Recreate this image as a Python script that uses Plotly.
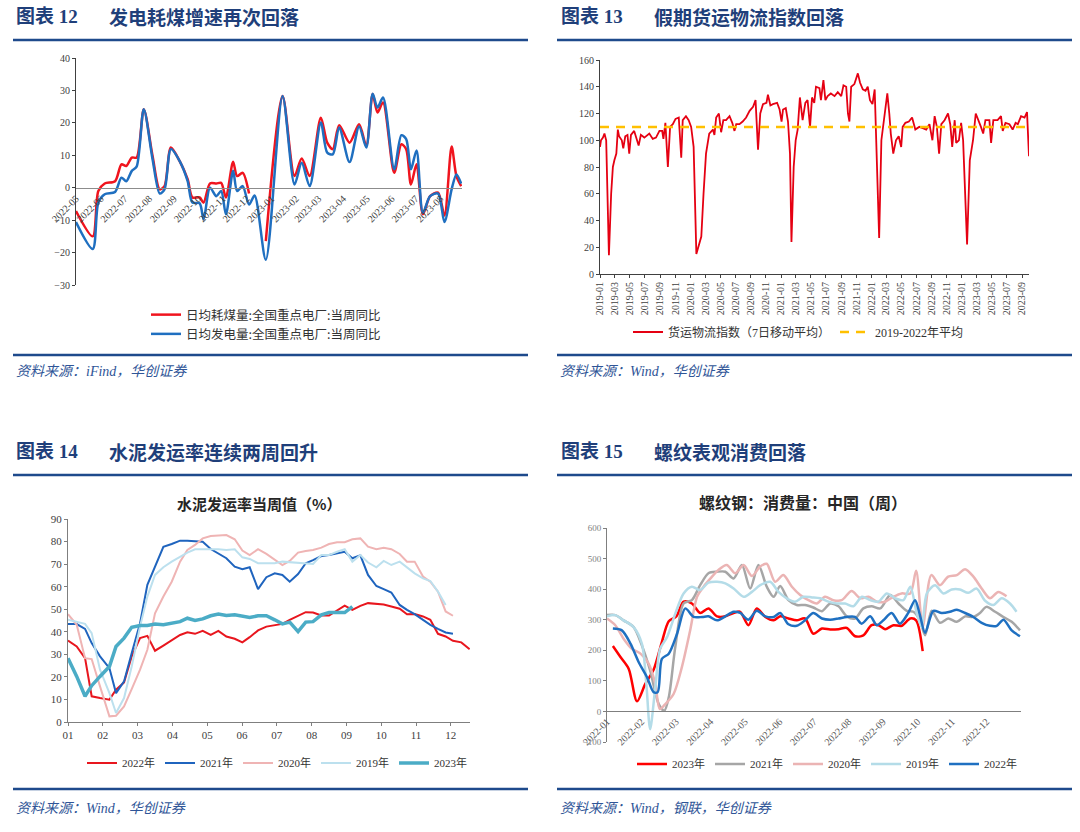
import plotly.graph_objects as go

W, H = 1080, 832

# ---------------- 图表12 数据 ----------------
p1_dates = ['2022-05-01', '2022-05-22', '2022-05-29', '2022-06-06', '2022-06-19', '2022-06-27',
            '2022-07-03', '2022-07-10', '2022-07-16', '2022-07-25', '2022-08-05', '2022-08-14',
            '2022-08-20', '2022-08-28', '2022-09-08', '2022-09-18', '2022-09-24', '2022-10-03',
            '2022-10-08', '2022-10-16', '2022-10-24', '2022-10-30', '2022-11-05', '2022-11-14',
            '2022-11-19', '2022-11-26', '2022-12-04', '2022-12-11', '2022-12-25', '2023-01-15',
            '2023-01-30', '2023-02-08', '2023-02-18', '2023-03-04', '2023-03-12', '2023-03-19',
            '2023-03-27', '2023-04-09', '2023-04-21', '2023-04-30', '2023-05-08', '2023-05-14',
            '2023-05-21', '2023-06-04', '2023-06-13', '2023-06-19', '2023-06-25', '2023-07-02',
            '2023-07-10', '2023-07-19', '2023-07-29', '2023-08-06', '2023-08-15', '2023-08-21',
            '2023-08-27']
coal_yoy = [-7.2, -15, -1, 1.3, 2, 7.2, 6.7, 9.3, 9.3, 24.2, 9.8, -0.5, 0.5, 12.4, 8.2, 2.6, -3, -3,
            -4.6, 1.3, 1.3, 1.5, -3, 8, 3.6, 4.6, -1.8, None, -16.5, 28.3, 3.6, 9, 3.6, 21.6, 13.9,
            11.9, 19.3, 13.9, 19.6, 12.9, 28.9, 23.2, 26.3, 4.6, 13.4, 11.9, 1, 7.2, -8.2, -2.6, -1.5,
            -8.6, 12.7, 3.6, 0.5]
power_yoy = [-10.6, -18.9, -4.6, -2, -1.3, 3.1, 2, 5.2, 6.5, 24.2, 8.8, -1.8, -0.5, 11.9, 8.2, 2,
             -4.6, -4.8, -9.8, 0, -2.6, -1, -8.2, 5.2, -1, 0.5, -5.2, -2.4, -22.2, 28.3, 1, 7.7, 0.5,
             20.1, 10.8, 10.3, 18.6, 7.9, 18.9, 12.4, 29, 24.7, 27.8, 5.7, 16.2, 15, 5.7, 11.5, -7.7,
             -2.6, -1.8, -10.6, -0.5, 4.1, 1.3]

# ---------------- 图表13 数据 ----------------
freight_dates = ['2019-01-01', '2019-01-05', '2019-01-13', '2019-01-19', '2019-01-26', '2019-02-06',
                 '2019-02-15', '2019-02-22', '2019-02-28', '2019-03-08', '2019-03-14', '2019-03-19',
                 '2019-03-30', '2019-04-05', '2019-04-13', '2019-04-22', '2019-04-29', '2019-05-06',
                 '2019-05-19', '2019-06-06', '2019-06-15', '2019-06-29', '2019-07-19', '2019-08-02',
                 '2019-08-15', '2019-08-29', '2019-09-09', '2019-09-14', '2019-09-22', '2019-10-02',
                 '2019-10-11', '2019-10-22', '2019-11-02', '2019-11-15', '2019-11-25', '2019-12-01',
                 '2019-12-14', '2019-12-25', '2020-01-04', '2020-01-14', '2020-01-25', '2020-02-05',
                 '2020-02-14', '2020-02-23', '2020-03-04', '2020-03-17', '2020-04-01', '2020-04-07',
                 '2020-04-14', '2020-04-25', '2020-05-04', '2020-05-13', '2020-05-24', '2020-06-07',
                 '2020-06-18', '2020-06-27', '2020-07-04', '2020-07-17', '2020-07-30', '2020-08-13',
                 '2020-08-27', '2020-09-10', '2020-09-20', '2020-09-30', '2020-10-09', '2020-10-20',
                 '2020-11-03', '2020-11-09', '2020-11-19', '2020-11-29', '2020-12-16', '2020-12-26',
                 '2021-01-03', '2021-01-09', '2021-01-20', '2021-01-29', '2021-02-06', '2021-02-12',
                 '2021-02-21', '2021-03-01', '2021-03-09', '2021-03-18', '2021-03-29', '2021-04-09',
                 '2021-04-18', '2021-04-28', '2021-05-06', '2021-05-15', '2021-05-22', '2021-06-05',
                 '2021-06-11', '2021-06-21', '2021-06-29', '2021-07-08', '2021-07-21', '2021-08-05',
                 '2021-08-18', '2021-09-01', '2021-09-10', '2021-09-21', '2021-09-28', '2021-10-04',
                 '2021-10-11', '2021-10-24', '2021-11-07', '2021-11-16', '2021-11-27', '2021-12-08',
                 '2021-12-17', '2021-12-26', '2022-01-05', '2022-01-14', '2022-01-21', '2022-02-01',
                 '2022-02-10', '2022-02-23', '2022-03-06', '2022-03-14', '2022-03-20', '2022-03-30',
                 '2022-04-10', '2022-04-21', '2022-05-01', '2022-05-07', '2022-05-18', '2022-06-01',
                 '2022-06-14', '2022-06-27', '2022-07-13', '2022-07-27', '2022-08-10', '2022-08-23',
                 '2022-09-04', '2022-09-13', '2022-09-22', '2022-10-01', '2022-10-10', '2022-10-23',
                 '2022-11-06', '2022-11-15', '2022-11-23', '2022-12-03', '2022-12-09', '2022-12-20',
                 '2022-12-29', '2023-01-06', '2023-01-22', '2023-02-02', '2023-02-15', '2023-02-26',
                 '2023-03-10', '2023-03-19', '2023-03-28', '2023-04-06', '2023-04-22', '2023-04-29',
                 '2023-05-08', '2023-05-25', '2023-06-08', '2023-06-15', '2023-06-26', '2023-07-12',
                 '2023-07-25', '2023-08-06', '2023-08-15', '2023-08-28', '2023-09-11', '2023-09-21',
                 '2023-09-29']
freight_index = [95, 100, 102, 105, 100, 14, 60, 80, 85, 90, 108, 103,
                 100, 94, 103, 104, 90, 104, 107, 96, 104, 102, 105, 101,
                 102, 107, 107, 101, 113, 80, 110, 112, 116, 117, 87, 115,
                 118, 115, 110, 95, 15, 22, 28, 60, 90, 105, 108, 104,
                 117, 120, 106, 115, 115, 118, 113, 107, 112, 112, 114, 117,
                 122, 125, 130, 93, 120, 127, 128, 134, 126, 127, 128, 123,
                 114, 123, 124, 114, 90, 24, 80, 100, 108, 132, 115, 128,
                 130, 110, 132, 128, 140, 139, 130, 145, 130, 133, 135, 133,
                 136, 133, 141, 140, 120, 114, 140, 142, 150, 143, 138, 137,
                 140, 130, 127, 138, 100, 27, 100, 120, 135, 120, 105, 90,
                 100, 103, 95, 110, 113, 114, 117, 108, 110, 109, 108, 112,
                 100, 118, 110, 90, 112, 115, 120, 112, 95, 115, 98, 100,
                 113, 100, 22, 85, 100, 120, 115, 110, 105, 115, 115, 98,
                 115, 115, 118, 107, 113, 112, 108, 113, 112, 118, 117, 121,
                 88]
avg_dates = ['2019-01-01', '2023-09-29']
avg_2019_2022 = [110, 110]

# ---------------- 图表14 数据 ----------------
month_ticks = [1, 2, 3, 4, 5, 6, 7, 8, 9, 10, 11, 12]
cement_ticktext = ['01', '02', '03', '04', '05', '06', '07', '08', '09', '10', '11', '12']
cement_weeks = [1.0, 1.25, 1.49, 1.68, 1.92, 2.19, 2.38, 2.61, 2.83, 3.07, 3.28, 3.5, 3.74, 3.98,
                4.22, 4.43, 4.65, 4.87, 5.1, 5.32, 5.55, 5.79, 6.01, 6.22, 6.46, 6.7, 6.94, 7.16,
                7.37, 7.61, 7.83, 8.04, 8.28, 8.5, 8.73, 8.95, 9.17, 9.4, 9.62, 9.86, 10.07, 10.29,
                10.53, 10.74, 10.96, 11.2, 11.41, 11.63, 11.85, 12.06, 12.3, 12.54]
cement_2022 = [36.1, 33.5, 28.3, 11.4, 10.6, 9.9, 14.3, 17.5, 29, 37.2, 38.2, 31.6, 33.9, 36.4, 38.6,
               39.8, 39.1, 40.4, 38.6, 40.4, 37.9, 36.9, 35.3, 37.6, 40.6, 42.3, 43.1, 43.5, 45.3,
               47.1, 48.7, 48.5, 47.2, 47.2, 49.3, 51.6, 49.7, 51.5, 52.7, 52.4, 52.1, 51.2, 50.2,
               47.8, 47.9, 46.8, 45.3, 39.1, 37.9, 36, 35.3, 32.3]
cement_2021 = [43.4, 43.4, 41.3, 35, 29.1, 23.9, 12.8, 18, 30.5, 43.8, 60.8, 68.6, 77.7, 78.9, 80.4,
               80.4, 80.2, 79.9, 76.7, 74.5, 72.6, 68.9, 67.7, 68.6, 58.9, 64.2, 65.9, 65.2, 62.2,
               65.6, 70.4, 71.8, 73.6, 74, 74.8, 75.5, 72.6, 73.9, 65.2, 60.3, 58.9, 57.4, 51.9,
               49.7, 47.8, 45.3, 43.1, 41.3, 39.7, 39.1, None, None]
cement_2020 = [47.8, 43.1, 28.3, 27.9, 15.8, 2.5, 2.8, 6.9, 14.6, 23.2, 32, 48.2, 55.6, 62.2, 71.1,
               76.3, 78.5, 81.4, 82.5, 82.6, 82.9, 81, 76, 74, 76.6, 74.5, 71.8, 69.6, 71.4, 75.1,
               75.8, 76.3, 77.3, 78.9, 79.7, 79.7, 81, 81.4, 77.7, 76.6, 77.3, 76.6, 74.5, 71.1,
               71.1, 64.5, 62.2, 57.8, 49, 47.1, None, None]
cement_2019 = [45.3, 44.3, 43.5, 39.4, 23.2, 12.8, 4, 10.6, 24.6, 42.3, 55.6, 65.2, 68.6, 71.1, 73.3,
               75.1, 76.6, 76.6, 76.7, 76.6, 76.3, 76.6, 73, 72.3, 70.4, 70.4, 70.4, 71.1, 70.8,
               70.4, 70.1, 70.1, 74, 74, 75.5, 76.6, 71.1, 74, 70.7, 68.6, 71.4, 69.6, 71.1, 68.6,
               65.9, 63.7, 62.5, 57.8, 51.9, None, None, None]
cement_2023 = [28.3, 20.2, 11.4, 16.1, 20.2, 24.6, 33.5, 37.2, 42, 42.8, 42.8, 43.4, 43.1, 43.8,
               44.5, 46, 45, 45.7, 47.1, 47.9, 47.2, 47.5, 46.8, 46.3, 47.1, 47.1, 45.3, 43.5,
               44.3, 40.1, 44.3, 44.5, 47.5, 48.5, 48.5, 48.5, 51.2] + [None] * 15

# ---------------- 图表15 数据 ----------------
rebar_ticktext = ['2022-01', '2022-02', '2022-03', '2022-04', '2022-05', '2022-06',
                  '2022-07', '2022-08', '2022-09', '2022-10', '2022-11', '2022-12']
rebar_x_2023 = [1.17, 1.39, 1.63, 1.87, 2.11, 2.35, 2.59, 2.79, 3.01, 3.22, 3.46, 3.7, 3.94, 4.19,
                4.43, 4.67, 4.86, 5.1, 5.34, 5.59, 5.83, 6.02, 6.26, 6.5, 6.74, 6.98, 7.23, 7.47,
                7.71, 7.95, 8.19, 8.43, 8.67, 8.87, 9.06, 9.3, 9.54, 9.79, 9.96, 10.15]
rebar_2023 = [214, 178, 139, 33, 90, 136, 227, 295, 311, 359, 353, 322, 337, 311, 311, 322, 326, 282,
              337, 309, 298, 311, 304, 298, 304, 254, 271, 268, 269, 273, 246, 249, 282, 282, 269,
              282, 280, 304, 298, 197]
rebar_x_2021 = [1.0, 1.24, 1.48, 1.77, 2.01, 2.25, 2.5, 2.66, 2.79, 2.98, 3.22, 3.46, 3.7, 3.94,
                4.19, 4.43, 4.67, 4.91, 5.15, 5.39, 5.63, 5.83, 6.02, 6.26, 6.5, 6.74, 6.98, 7.23,
                7.47, 7.71, 7.95, 8.19, 8.43, 8.67, 8.92, 9.21, 9.45, 9.69, 9.88, 10.07, 10.22,
                10.41, 10.65, 10.89, 11.14, 11.38, 11.62, 11.81, 12.0, 12.25, 12.49, 12.73, 12.97]
rebar_2021 = [315, 315, 298, 276, 216, 134, 24, 2, 46, 211, 353, 364, 413, 452, 457, 457, 435, 479,
              402, 479, 408, 375, 410, 364, 348, 348, 340, 328, 353, 344, 311, 304, 337, 344, 337,
              381, 353, 329, 326, 298, 249, 329, 290, 304, 293, 311, 309, 322, 342, 326, 309, 293,
              265]
rebar_x_2020 = [1.0, 1.24, 1.48, 1.72, 1.97, 2.21, 2.4, 2.53, 2.69, 2.93, 3.17, 3.41, 3.61, 3.8,
                4.0, 4.23, 4.47, 4.72, 4.96, 5.2, 5.44, 5.63, 5.87, 6.11, 6.36, 6.6, 6.84, 7.08,
                7.32, 7.56, 7.8, 8.09, 8.34, 8.58, 8.82, 9.06, 9.3, 9.54, 9.79, 9.96, 10.15, 10.4,
                10.65, 10.89, 11.14, 11.38, 11.62, 11.86, 12.1, 12.34, 12.58]
rebar_2020 = [304, 282, 238, 205, 189, 156, 90, 8, 24, 57, 145, 265, 375, 408, 435, 463, 479, 452,
              479, 443, 474, 483, 424, 446, 408, 381, 364, 353, 375, 364, 364, 394, 370, 375, 359,
              359, 375, 386, 386, 460, 276, 446, 413, 441, 446, 465, 441, 402, 370, 391, 377]
rebar_x_2019 = [1.0, 1.24, 1.48, 1.77, 2.01, 2.14, 2.25, 2.4, 2.54, 2.74, 2.98, 3.22, 3.46, 3.7,
                3.94, 4.19, 4.43, 4.67, 4.96, 5.2, 5.44, 5.73, 5.97, 6.21, 6.45, 6.69, 6.94, 7.18,
                7.42, 7.66, 7.9, 8.14, 8.39, 8.63, 8.87, 9.11, 9.35, 9.59, 9.79, 9.98, 10.12,
                10.27, 10.51, 10.75, 10.99, 11.23, 11.47, 11.71, 11.96, 12.2, 12.44, 12.68, 12.87]
rebar_2019 = [311, 315, 298, 276, 222, 90, -58, 79, 205, 243, 320, 386, 408, 397, 421, 424, 419, 402,
              375, 391, 413, 424, 391, 370, 359, 375, 373, 370, 359, 353, 353, 344, 375, 364, 359,
              386, 370, 364, 408, 320, 276, 386, 413, 386, 399, 399, 388, 402, 362, 348, 370, 353,
              326]
rebar_x_2022 = [1.17, 1.43, 1.68, 1.92, 2.16, 2.35, 2.47, 2.59, 2.79, 3.03, 3.27, 3.51, 3.76, 3.94,
                4.19, 4.43, 4.67, 4.86, 5.1, 5.34, 5.59, 5.83, 6.02, 6.26, 6.5, 6.74, 6.98, 7.23,
                7.47, 7.71, 7.95, 8.19, 8.38, 8.63, 8.82, 9.01, 9.25, 9.49, 9.73, 9.93, 10.07,
                10.22, 10.46, 10.7, 10.94, 11.14, 11.38, 11.62, 11.86, 12.1, 12.3, 12.49, 12.73,
                12.97]
rebar_2022 = [271, 265, 222, 161, 112, 63, 63, 172, 189, 254, 337, 309, 309, 311, 298, 311, 326, 322,
              300, 329, 311, 309, 322, 285, 280, 298, 322, 304, 300, 304, 309, 309, 287, 311, 282,
              298, 322, 287, 322, 364, 315, 257, 329, 322, 326, 333, 322, 309, 290, 280, 280, 300,
              265, 246]


def fx(px):
    return px / W


def fy(py):
    return 1 - py / H


SERIF = 'Liberation Serif, Noto Sans CJK SC'
CJK = 'Noto Sans CJK SC, Liberation Serif'
NAVY = '#1F3F7A'
RULE = '#1E4A8C'
AXIS = '#7F7F7F'

fig = go.Figure()

# 图表12
fig.add_trace(go.Scatter(x=p1_dates, y=coal_yoy, name='日均耗煤量:全国重点电厂:当周同比',
                         mode='lines', line=dict(color='#F0141E', width=2.5, shape='spline', smoothing=0.8),
                         xaxis='x', yaxis='y', legend='legend'))
fig.add_trace(go.Scatter(x=p1_dates, y=power_yoy, name='日均发电量:全国重点电厂:当周同比',
                         mode='lines', line=dict(color='#1F6FC0', width=2.5, shape='spline', smoothing=0.8),
                         xaxis='x', yaxis='y', legend='legend'))

# 图表13
fig.add_trace(go.Scatter(x=freight_dates, y=freight_index, name='货运物流指数（7日移动平均）',
                         mode='lines', line=dict(color='#E50012', width=1.8),
                         xaxis='x2', yaxis='y2', legend='legend2'))
fig.add_trace(go.Scatter(x=avg_dates, y=avg_2019_2022, name='2019-2022年平均',
                         mode='lines', line=dict(color='#FFC000', width=2.5, dash='9px,7px'),
                         xaxis='x2', yaxis='y2', legend='legend2'))

# 图表14
for name, vals, color, width in [('2022年', cement_2022, '#E8161E', 2),
                                 ('2021年', cement_2021, '#1F64BE', 2),
                                 ('2020年', cement_2020, '#EFB4B4', 2),
                                 ('2019年', cement_2019, '#BCE0EE', 2),
                                 ('2023年', cement_2023, '#4BACC6', 3.5)]:
    fig.add_trace(go.Scatter(x=cement_weeks, y=vals, name=name, mode='lines',
                             line=dict(color=color, width=width),
                             xaxis='x3', yaxis='y3', legend='legend3'))

# 图表15
for name, xs, vals, color in [('2023年', rebar_x_2023, rebar_2023, '#FF0000'),
                              ('2021年', rebar_x_2021, rebar_2021, '#A6A6A6'),
                              ('2020年', rebar_x_2020, rebar_2020, '#EBB4B4'),
                              ('2019年', rebar_x_2019, rebar_2019, '#B4DCE8'),
                              ('2022年', rebar_x_2022, rebar_2022, '#1F70C1')]:
    fig.add_trace(go.Scatter(x=xs, y=vals, name=name, mode='lines',
                             line=dict(color=color, width=2.5, shape='spline', smoothing=0.8),
                             xaxis='x4', yaxis='y4', legend='legend4'))

tick_font = dict(family=SERIF, size=10, color='#404040')

fig.update_layout(
    width=W, height=H, margin=dict(l=0, r=0, t=0, b=0, pad=0, autoexpand=False),
    paper_bgcolor='white', plot_bgcolor='rgba(0,0,0,0)',
    font=dict(family=CJK, color='#333333'),
    # 图表12
    xaxis=dict(domain=[fx(76), fx(462)], anchor='free', position=fy(188),
               type='date', range=['2022-05-01', '2023-08-28'], tick0='2022-05-01', dtick='M1',
               tickformat='%Y-%m', tickangle=-45, tickfont=tick_font, automargin=False,
               showline=True, linecolor='#8C8C8C', linewidth=1, showgrid=False, zeroline=False,
               ticks=''),
    yaxis=dict(domain=[fy(285), fy(58)], anchor='x', range=[-30, 40], dtick=10,
               tickfont=tick_font, showline=True, linecolor='#404040', linewidth=1, automargin=False,
               ticks='outside', ticklen=3, tickcolor='#404040', showgrid=False, zeroline=False),
    # 图表13
    xaxis2=dict(domain=[fx(600), fx(1029)], anchor='y2', type='date',
                range=['2019-01-01', '2023-09-29'], tick0='2019-01-01', dtick='M2',
                tickformat='%Y-%m', tickangle=-90, tickfont=tick_font, automargin=False,
                showline=True, linecolor='#404040', linewidth=1, showgrid=False, zeroline=False,
                ticks='outside', ticklen=3, tickcolor='#404040'),
    yaxis2=dict(domain=[fy(274), fy(60)], anchor='x2', range=[0, 160], dtick=20,
                tickfont=tick_font, showline=True, linecolor='#404040', linewidth=1, automargin=False,
                ticks='outside', ticklen=3, tickcolor='#404040', showgrid=False, zeroline=False),
    # 图表14
    xaxis3=dict(domain=[fx(68), fx(470)], anchor='y3', range=[1, 12.55],
                tickvals=month_ticks, ticktext=cement_ticktext, automargin=False,
                tickfont=dict(family=SERIF, size=11, color='#404040'),
                showline=True, linecolor=AXIS, linewidth=1, showgrid=False, zeroline=False,
                ticks='outside', ticklen=3, tickcolor=AXIS),
    yaxis3=dict(domain=[fy(722), fy(519)], anchor='x3', range=[0, 90], dtick=10,
                tickfont=dict(family=SERIF, size=11, color='#404040'), automargin=False,
                showline=True, linecolor=AXIS, linewidth=1, showgrid=False, zeroline=False,
                ticks='outside', ticklen=3, tickcolor=AXIS),
    # 图表15
    xaxis4=dict(domain=[fx(607), fx(1021)], anchor='free', position=fy(711), range=[1, 13],
                tickvals=month_ticks, ticktext=rebar_ticktext, tickangle=-45, automargin=False,
                tickfont=dict(family=SERIF, size=10, color='#595959'),
                showline=True, linecolor=AXIS, linewidth=1, showgrid=False, zeroline=False,
                ticks=''),
    yaxis4=dict(domain=[fy(742), fy(528)], anchor='x4', range=[-100, 600], dtick=100,
                tickfont=dict(family=SERIF, size=9, color='#7F7F7F'), automargin=False,
                showline=True, linecolor=AXIS, linewidth=1, showgrid=False, zeroline=False,
                ticks='outside', ticklen=3, tickcolor=AXIS),
    legend=dict(x=fx(146), y=fy(300), xanchor='left', yanchor='top', orientation='v',
                font=dict(family=CJK, size=12.5, color='#333333'), bgcolor='rgba(0,0,0,0)'),
    legend2=dict(x=fx(628), y=fy(332), xanchor='left', yanchor='middle', orientation='h',
                 font=dict(family=SERIF, size=12, color='#333333'), bgcolor='rgba(0,0,0,0)'),
    legend3=dict(x=fx(82), y=fy(763), xanchor='left', yanchor='middle', orientation='h',
                 font=dict(family=SERIF, size=11, color='#333333'), bgcolor='rgba(0,0,0,0)'),
    legend4=dict(x=fx(632), y=fy(764), xanchor='left', yanchor='middle', orientation='h',
                 font=dict(family=SERIF, size=11, color='#333333'), bgcolor='rgba(0,0,0,0)'),
)

# 标题、分隔线与来源
annotations = []


def add_text(px, py, text, size, color, bold=False, family=SERIF, xanchor='left'):
    if bold:
        text = '<b>' + text + '</b>'
    annotations.append(dict(x=fx(px), y=fy(py), xref='paper', yref='paper', text=text,
                            showarrow=False, xanchor=xanchor, yanchor='middle',
                            font=dict(family=family, size=size, color=color)))


for px, py, num, title in [(14, 17, '图表 12', '发电耗煤增速再次回落'),
                           (559, 17, '图表 13', '假期货运物流指数回落'),
                           (14, 452, '图表 14', '水泥发运率连续两周回升'),
                           (559, 452, '图表 15', '螺纹表观消费回落')]:
    add_text(px, py, num, 19, NAVY, bold=True)
    add_text(px + 93, py, title, 19, NAVY, bold=True, family=CJK)

for px, py, src in [(14, 371, '资料来源：iFind，华创证券'),
                    (558, 371, '资料来源：Wind，华创证券'),
                    (14, 808, '资料来源：Wind，华创证券'),
                    (558, 808, '资料来源：Wind，钢联，华创证券')]:
    add_text(px, py, '<i>' + src + '</i>', 14, '#2F5597')

add_text(259, 503, '水泥发运率当周值（%）', 15, '#262626', bold=True, family=CJK, xanchor='center')
add_text(803, 502, '螺纹钢：消费量：中国（周）', 16, '#262626', bold=True, family=CJK, xanchor='center')

fig.update_layout(annotations=annotations)

shapes = []
for x0, x1 in [(13, 528), (557, 1072)]:
    for py in [40, 355, 475, 789]:
        shapes.append(dict(type='line', xref='paper', yref='paper', x0=fx(x0), x1=fx(x1),
                           y0=fy(py), y1=fy(py), line=dict(color=RULE, width=2.5)))
fig.update_layout(shapes=shapes)

# 去掉页面默认边距，让图从左上角开始；隐藏工具栏
fig.write_html('out.html', config={'displayModeBar': False},
               post_script="document.body.style.margin='0';")
